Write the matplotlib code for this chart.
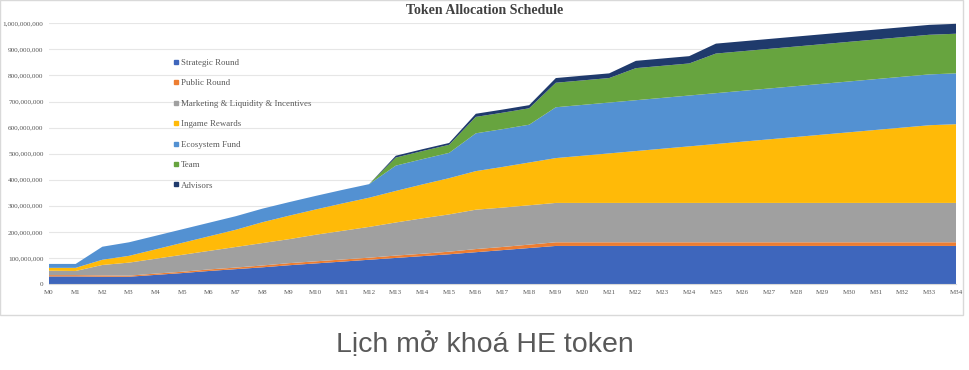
import matplotlib
matplotlib.use("Agg")
import matplotlib.pyplot as plt
from matplotlib.lines import Line2D
from matplotlib.patches import Rectangle
from matplotlib.ticker import FuncFormatter

# Data (millions of tokens unlocked, per month)
months = ["M" + str(i) for i in range(35)]

strategic = [29, 29, 28, 28, 35, 42, 50, 57, 64, 72, 79, 86, 93, 100, 107, 114, 122, 130,
             138, 146, 146, 146, 146, 146, 146, 146, 146, 146, 146, 146, 146, 146, 146, 146, 146]
public = [5, 5, 5, 4, 5, 5, 6, 6, 7, 8, 8, 8, 8, 9, 9, 10, 12, 12,
          13, 14, 14, 14, 14, 14, 14, 14, 14, 14, 14, 14, 14, 14, 14, 14, 14]
marketing = [17, 16, 40, 50, 57, 65, 71, 79, 86, 92, 102, 110, 118, 127, 136, 143, 151, 151,
             151, 151, 151, 151, 151, 151, 151, 151, 151, 151, 151, 151, 151, 151, 151, 151, 151]
ingame = [11, 12, 20, 26, 36, 46, 56, 66, 80, 90, 97, 105, 112, 121, 130, 139, 148, 156,
          164, 172, 181, 190, 199, 208, 217, 226, 235, 244, 253, 262, 271, 280, 289, 298, 302]
ecosystem = [15, 15, 50, 52, 52, 52, 52, 52, 52, 52, 52, 52, 52, 97, 97, 97, 145, 145,
             145, 195, 195, 195, 195, 195, 195, 195, 195, 195, 195, 195, 195, 195, 195, 195, 195]
team = [0, 0, 0, 0, 0, 0, 0, 0, 0, 0, 0, 0, 0, 31, 31, 31, 63, 63,
        63, 94, 94, 94, 123, 123, 123, 152, 152, 152, 152, 152, 152, 152, 152, 152, 152]
advisors = [0, 0, 0, 0, 0, 0, 0, 0, 0, 0, 0, 0, 0, 7, 7, 7, 12, 12,
            12, 18, 18, 18, 28, 28, 28, 38, 38, 38, 38, 38, 38, 38, 38, 38, 38]

labels = ["Strategic Round", "Public Round", "Marketing & Liquidity & Incentives",
          "Ingame Rewards", "Ecosystem Fund", "Team", "Advisors"]
colors = ["#3E66BC", "#ED7D31", "#A0A0A0", "#FFBA08", "#5391D2", "#67A43F", "#1F3A6C"]

series = [strategic, public, marketing, ingame, ecosystem, team, advisors]
series = [[v * 1e6 for v in s] for s in series]

fig = plt.figure(figsize=(9.7, 3.7), dpi=100)
ax = fig.add_axes([49 / 970, 1 - 284 / 370, (956 - 49) / 970, (284 - 23.3) / 370])

x = list(range(len(months)))
ax.stackplot(x, *series, colors=colors, labels=labels, linewidth=0, zorder=2)

ax.set_xlim(0, 34)
ax.set_ylim(0, 1e9)
ax.set_yticks([i * 1e8 for i in range(11)])
ax.yaxis.set_major_formatter(FuncFormatter(lambda v, p: f"{int(v):,}"))
ax.set_xticks(x)
ax.set_xticklabels(months)
ax.tick_params(length=0, labelcolor="#595959", pad=4)
ax.tick_params(axis="y", labelsize=5.2)
ax.tick_params(axis="x", labelsize=5)
for lab in ax.get_xticklabels() + ax.get_yticklabels():
    lab.set_family("Liberation Serif")
ax.grid(axis="y", color="#E6E6E6", linewidth=0.8, zorder=0)
ax.set_axisbelow(True)
for side in ["top", "right", "left"]:
    ax.spines[side].set_visible(False)
ax.spines["bottom"].set_color("#D9D9D9")

fig.text(0.5, 1 - 10.5 / 370, "Token Allocation Schedule", ha="center", va="center",
         fontsize=10, fontweight="bold", family="Liberation Serif", color="#404040")

handles = [Line2D([], [], linestyle="none", marker="s", markersize=2.8, color=c) for c in colors]
ax.legend(handles, labels, loc="upper left", bbox_to_anchor=(169 / 970, 1 - 54 / 370),
          bbox_transform=fig.transFigure, frameon=False, labelcolor="#595959",
          handlelength=0.55, handletextpad=0.25, labelspacing=1.38, borderpad=0,
          prop={"family": "Liberation Serif", "size": 6.4})

# frame around the chart image
fig.patches.append(Rectangle((0, 1 - 315 / 370), 963 / 970, 315 / 370, transform=fig.transFigure,
                             fill=False, edgecolor="#D9D9D9", linewidth=1))

fig.text(485 / 970, 1 - 345 / 370, "Lịch mở khoá HE token", ha="center", va="center",
         fontsize=20.5, family="Liberation Sans", color="#595959")

fig.savefig("out.png", dpi=100)
